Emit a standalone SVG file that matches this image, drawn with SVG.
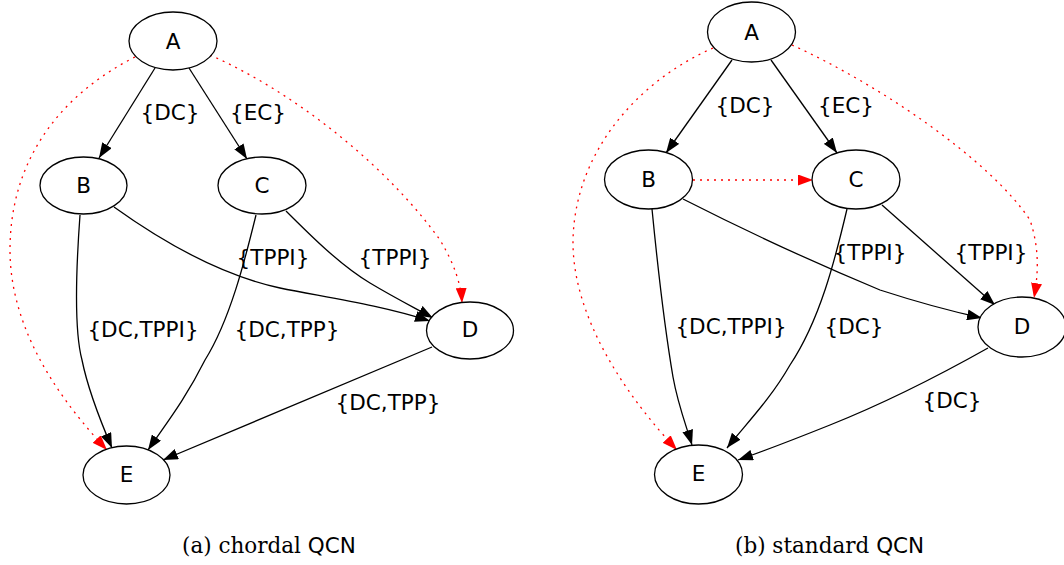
<svg xmlns="http://www.w3.org/2000/svg" width="1064" height="565" viewBox="0 0 1064 565">
<defs>
<style>
.n ellipse{fill:#fff;stroke:#000;stroke-width:1.3}
.n text{font-family:"DejaVu Sans",sans-serif;font-size:21.5px;text-anchor:middle;fill:#000}
.e path{fill:none;stroke:#000;stroke-width:1.3}
.e path.r{stroke:#f00;stroke-dasharray:2,5}
.lb{font-family:"DejaVu Sans",sans-serif;font-size:21.5px;text-anchor:middle;fill:#000}
.cap{font-size:21.5px;fill:#000}
</style>
<marker id="ab" viewBox="0 0 15 11" refX="15" refY="5.5" markerWidth="15" markerHeight="11" markerUnits="userSpaceOnUse" orient="auto"><path d="M0,0 L15,5.5 L0,11 z" fill="#000"/></marker>
<marker id="ar" viewBox="0 0 15 11" refX="15" refY="5.5" markerWidth="15" markerHeight="11" markerUnits="userSpaceOnUse" orient="auto"><path d="M0,0 L15,5.5 L0,11 z" fill="#f00"/></marker>
</defs>
<rect width="1064" height="565" fill="#fff"/>

<g id="edges-a" class="e">
<path d="M155,68 L99,158" marker-end="url(#ab)"/>
<path d="M189,68 L247,159" marker-end="url(#ab)"/>
<path d="M80,215 C76,270 74,330 82,360 C88,390 100,420 112,448" marker-end="url(#ab)"/>
<path d="M256,215 C245,260 230,320 205,360 C185,400 165,425 148,450" marker-end="url(#ab)"/>
<path d="M114,207 C160,240 220,275 280,288 C330,298 380,305 430,321" marker-end="url(#ab)"/>
<path d="M286,211 C310,235 340,265 370,283 C395,298 415,308 433,318" marker-end="url(#ab)"/>
<path d="M432,347 L163,460" marker-end="url(#ab)"/>
<path class="r" d="M135,57 C60,95 10,160 10,250 C10,330 60,400 107,450" marker-end="url(#ar)"/>
<path class="r" d="M210,55 C300,95 390,170 440,240 C455,265 461,285 462,303" marker-end="url(#ar)"/>
</g>
<g id="labels-a">
<text class="lb" x="170" y="120">{DC}</text>
<text class="lb" x="258" y="120">{EC}</text>
<text class="lb" x="273" y="265">{TPPI}</text>
<text class="lb" x="395" y="265">{TPPI}</text>
<text class="lb" x="143" y="337">{DC,TPPI}</text>
<text class="lb" x="287" y="337">{DC,TPP}</text>
<text class="lb" x="388" y="410">{DC,TPP}</text>
</g>
<g id="a-A" class="n"><ellipse cx="173" cy="41" rx="44" ry="29"/><text x="173" y="48.5">A</text></g>
<g id="a-B" class="n"><ellipse cx="83.5" cy="185.5" rx="43.5" ry="28.5"/><text x="83.5" y="192.7">B</text></g>
<g id="a-C" class="n"><ellipse cx="262" cy="185.5" rx="44" ry="28.5"/><text x="262" y="192.7">C</text></g>
<g id="a-D" class="n"><ellipse cx="470" cy="330.5" rx="43.5" ry="28.5"/><text x="470" y="337">D</text></g>
<g id="a-E" class="n"><ellipse cx="126.5" cy="475" rx="43.5" ry="29"/><text x="126.5" y="482">E</text></g>

<g id="edges-b" class="e">
<path d="M732,60 L666,153" marker-end="url(#ab)"/>
<path d="M771,60 L837,153" marker-end="url(#ab)"/>
<path class="r" d="M693,180 L813,180" marker-end="url(#ar)"/>
<path d="M652,209 C657,260 665,330 673,377 C678,405 686,425 692,445" marker-end="url(#ab)"/>
<path d="M847,209 C835,260 820,320 790,365 C770,400 745,425 727,448" marker-end="url(#ab)"/>
<path d="M683,199 C740,228 820,265 880,290 C920,303 950,311 982,318" marker-end="url(#ab)"/>
<path d="M882,205 L995,305" marker-end="url(#ab)"/>
<path d="M988,348 C940,375 880,405 830,425 C800,437 770,449 738,460" marker-end="url(#ab)"/>
<path class="r" d="M713,48 C640,80 575,150 573,240 C572,320 630,400 677,450" marker-end="url(#ar)"/>
<path class="r" d="M792,45 C880,85 990,160 1030,220 C1040,250 1038,275 1034,298" marker-end="url(#ar)"/>
</g>
<g id="labels-b">
<text class="lb" x="745" y="113">{DC}</text>
<text class="lb" x="846" y="113">{EC}</text>
<text class="lb" x="870" y="260">{TPPI}</text>
<text class="lb" x="991" y="260">{TPPI}</text>
<text class="lb" x="731" y="334">{DC,TPPI}</text>
<text class="lb" x="854" y="334">{DC}</text>
<text class="lb" x="952" y="408">{DC}</text>
</g>
<g id="b-A" class="n"><ellipse cx="751.5" cy="32" rx="44" ry="30"/><text x="751.5" y="40">A</text></g>
<g id="b-B" class="n"><ellipse cx="648.5" cy="179.5" rx="44" ry="29.5"/><text x="648.5" y="186.7">B</text></g>
<g id="b-C" class="n"><ellipse cx="856" cy="179.5" rx="44" ry="29.5"/><text x="856" y="186.7">C</text></g>
<g id="b-D" class="n"><ellipse cx="1022" cy="327" rx="44" ry="30"/><text x="1022" y="334">D</text></g>
<g id="b-E" class="n"><ellipse cx="698.5" cy="474.5" rx="44" ry="29.5"/><text x="698.5" y="481">E</text></g>

<g id="captions">
<text class="cap" x="182" y="553"><tspan font-family="DejaVu Serif, serif">(a) chordal </tspan><tspan font-family="DejaVu Sans, sans-serif">QCN</tspan></text>
<text class="cap" x="735" y="553"><tspan font-family="DejaVu Serif, serif">(b) standard </tspan><tspan font-family="DejaVu Sans, sans-serif">QCN</tspan></text>
</g>
</svg>
